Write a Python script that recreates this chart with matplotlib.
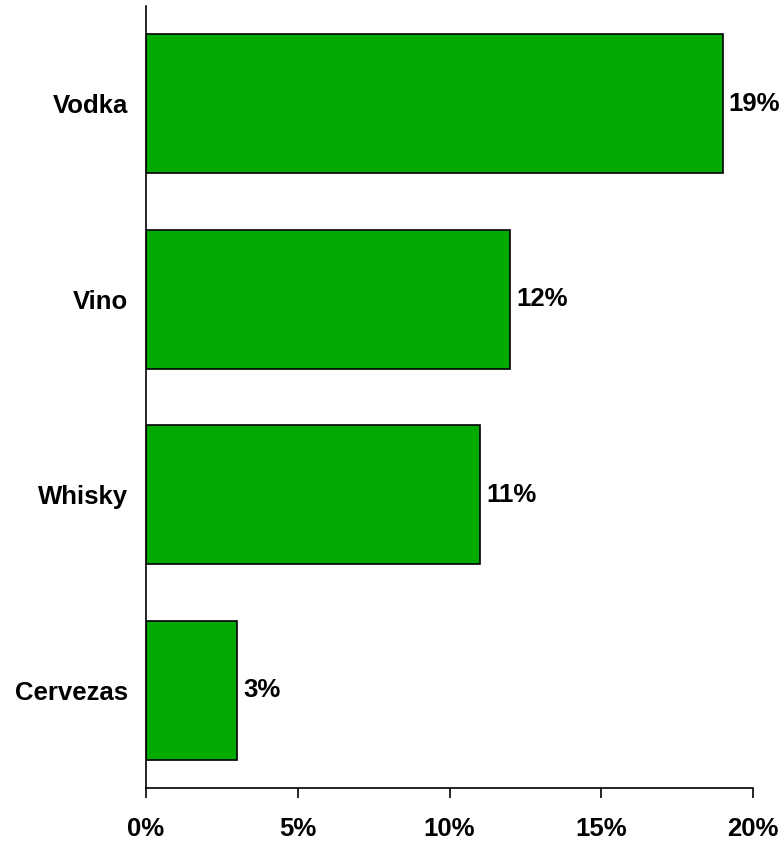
import matplotlib
matplotlib.use("Agg")
import matplotlib.pyplot as plt
from matplotlib.ticker import FuncFormatter

plt.rcParams['font.family'] = ['Liberation Sans', 'DejaVu Sans']
plt.rcParams['font.weight'] = 'bold'

categories = ['Cervezas', 'Whisky', 'Vino', 'Vodka']
values = [3, 11, 12, 19]
xticks = [0, 5, 10, 15, 20]

fs = 18.5

fig = plt.figure(figsize=(7.82, 8.41), dpi=100)
ax = fig.add_axes([146/782, 1-788/841, (753-146)/782, (788-6)/841])

ypos = range(len(categories))
ax.barh(ypos, values, height=0.71, color='#00AA00', edgecolor='black', linewidth=1.2)

for y, v in zip(ypos, values):
    ax.text(v + 0.2, y, f'{v}%', va='center', ha='left', fontsize=fs, fontweight='bold')

ax.set_xlim(0, 20)
ax.set_ylim(-0.5, 3.5)
ax.set_yticks(list(ypos))
ax.set_yticklabels(categories, fontsize=fs, fontweight='bold')
ax.set_xticks(xticks)
ax.xaxis.set_major_formatter(FuncFormatter(lambda v, p: f'{v:.0f}%'))
for lab in ax.get_xticklabels():
    lab.set_fontsize(fs)
    lab.set_fontweight('bold')

ax.spines['top'].set_visible(False)
ax.spines['right'].set_visible(False)
ax.spines['left'].set_linewidth(1.2)
ax.spines['bottom'].set_linewidth(1.2)
ax.tick_params(axis='y', length=0, pad=13)
ax.tick_params(axis='x', direction='out', length=7, width=1.2, pad=14)

fig.savefig('out.png', dpi=100)
